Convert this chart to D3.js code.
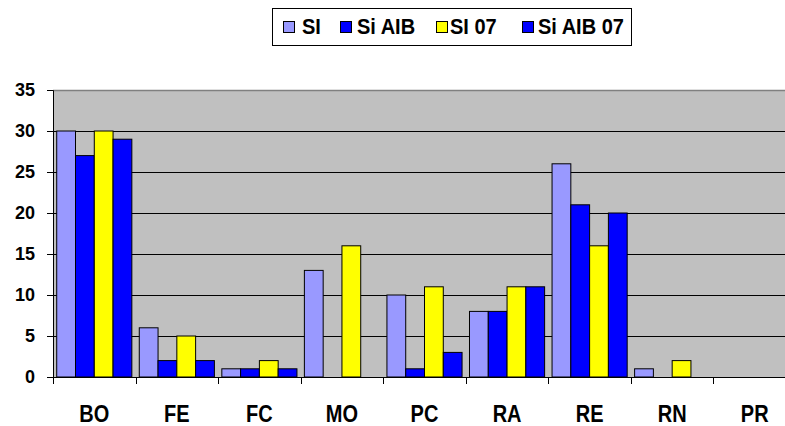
<!DOCTYPE html>
<html>
<head>
<meta charset="utf-8">
<script src="https://cdn.jsdelivr.net/npm/d3@7"></script>
<style>
  body { margin: 0; background: #fff; }
  text { font-family: "Liberation Sans", Arial, sans-serif; font-weight: bold; }
</style>
</head>
<body>
<div class="chart"></div>
<script>
// Data
var categories = ["BO", "FE", "FC", "MO", "PC", "RA", "RE", "RN", "PR"];
var seriesNames = ["SI", "Si AIB", "SI 07", "Si AIB 07"];
var siValues = [30, 6, 1, 13, 10, 8, 26, 1, 0];
var siAibValues = [27, 2, 1, 0, 1, 8, 21, 0, 0];
var si07Values = [30, 5, 2, 16, 11, 11, 16, 2, 0];
var siAib07Values = [29, 2, 1, 0, 3, 11, 20, 0, 0];
var yTicks = [0, 5, 10, 15, 20, 25, 30, 35];
var seriesColors = ["#9999FF", "#0000FF", "#FFFF00", "#0000FF"];

//Define the SVG area dimensions.
var svgWidth = 785;
var svgHeight = 426;
var margin = {top: 90, right: -11, bottom: 49, left: 53};

//Define the dimensions of the chart area (runs past the right edge, like the original).
var chartWidth = svgWidth - margin.left - margin.right;
var chartHeight = svgHeight - margin.top - margin.bottom;

var svg = d3.select(".chart")
  .append("svg")
  .attr("width", svgWidth)
  .attr("height", svgHeight);

var chart = svg.append("g")
  .attr("transform", `translate(${margin.left},${margin.top})`);

// Build rows per category
var allValues = [siValues, siAibValues, si07Values, siAib07Values];
var rows = categories.map(function(c, i) {
  return {cat: c, values: seriesNames.map(function(s, j) {
    return {name: s, value: allValues[j][i], color: seriesColors[j]};
  })};
});

// Scales
var x0 = d3.scaleBand().domain(categories).range([0, chartWidth]).padding(0);
var gap = x0.bandwidth() * 0.09;
var x1 = d3.scaleBand().domain(seriesNames).range([gap / 2, x0.bandwidth() - gap / 2]).padding(0);
var yScale = d3.scaleLinear().domain([0, 35]).range([chartHeight, 0]);

// Plot background
chart.append("rect")
  .attr("width", chartWidth)
  .attr("height", chartHeight)
  .attr("fill", "#C0C0C0");

// Gridlines
chart.selectAll(".grid")
  .data(yTicks.filter(function(t) { return t > 0 && t < 35; }))
  .enter()
  .append("line")
  .attr("x1", 0)
  .attr("x2", chartWidth)
  .attr("y1", function(d) { return Math.round(yScale(d)) + 0.5; })
  .attr("y2", function(d) { return Math.round(yScale(d)) + 0.5; })
  .attr("stroke", "#000")
  .attr("stroke-width", 1);

// Top border of plot area
chart.append("line")
  .attr("x1", 0).attr("x2", chartWidth)
  .attr("y1", 0.5).attr("y2", 0.5)
  .attr("stroke", "#808080")
  .attr("stroke-width", 1.5);

// Bars
var groups = chart.selectAll(".group")
  .data(rows)
  .enter()
  .append("g")
  .attr("transform", function(d) { return `translate(${x0(d.cat)},0)`; });

groups.selectAll("rect")
  .data(function(d) { return d.values.filter(function(v) { return v.value > 0; }); })
  .enter()
  .append("rect")
  .attr("x", function(d) { return x1(d.name); })
  .attr("y", function(d) { return yScale(d.value); })
  .attr("width", x1.bandwidth())
  .attr("height", function(d) { return chartHeight - yScale(d.value); })
  .attr("fill", function(d) { return d.color; })
  .attr("stroke", "#000")
  .attr("stroke-width", 1);

// Y axis
var leftAxis = d3.axisLeft(yScale).tickValues(yTicks).tickSize(6).tickPadding(12);
var yAxis = chart.append("g").call(leftAxis);
yAxis.select(".domain").attr("stroke", "#000");
yAxis.selectAll("text")
  .style("font-size", "18px")
  .attr("fill", "#000");

// X axis with ticks between categories
var xTickPos = d3.range(categories.length + 1).map(function(i) { return i * x0.step(); });
var xAxisG = chart.append("g").attr("transform", `translate(0,${chartHeight})`);
xAxisG.append("line")
  .attr("x1", 0).attr("x2", chartWidth)
  .attr("y1", 0.5).attr("y2", 0.5)
  .attr("stroke", "#000");
xAxisG.selectAll(".xtick")
  .data(xTickPos)
  .enter()
  .append("line")
  .attr("x1", function(d) { return Math.round(d) + 0.5; })
  .attr("x2", function(d) { return Math.round(d) + 0.5; })
  .attr("y1", 0)
  .attr("y2", 7)
  .attr("stroke", "#000");
// labels are a bit taller than wide in the original
xAxisG.selectAll(".xlabel")
  .data(categories)
  .enter()
  .append("text")
  .attr("transform", function(d) {
    return `translate(${x0(d) + x0.bandwidth() / 2},45) scale(1,1.18)`;
  })
  .attr("text-anchor", "middle")
  .style("font-size", "20px")
  .text(function(d) { return d; });

// Legend
var legendX = [283, 340, 436, 522];
var legendTextX = [302, 357, 450, 538];
svg.append("rect")
  .attr("x", 272.5).attr("y", 8.5)
  .attr("width", 359).attr("height", 37)
  .attr("fill", "#fff")
  .attr("stroke", "#000");

var legend = svg.selectAll(".legend")
  .data(seriesNames)
  .enter()
  .append("g");
legend.append("rect")
  .attr("x", function(d, i) { return legendX[i] + 0.5; })
  .attr("y", 21.5)
  .attr("width", 11)
  .attr("height", 11)
  .attr("fill", function(d, i) { return seriesColors[i]; })
  .attr("stroke", "#000");
legend.append("text")
  .attr("transform", function(d, i) { return `translate(${legendTextX[i]},34) scale(1,1.08)`; })
  .style("font-size", "20px")
  .text(function(d) { return d; });
</script>
</body>
</html>
